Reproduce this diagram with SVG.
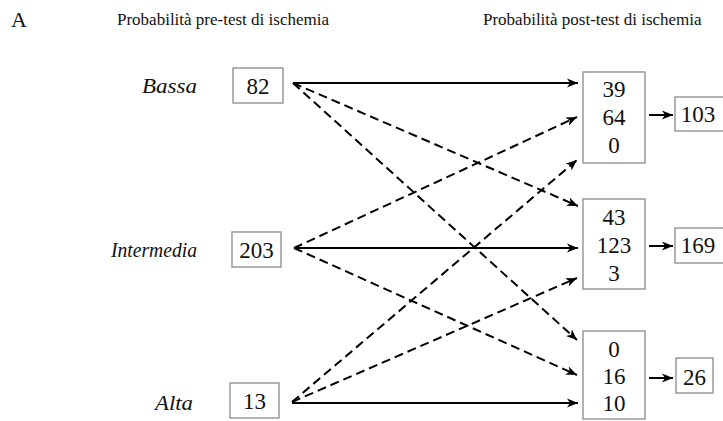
<svg xmlns="http://www.w3.org/2000/svg" width="723" height="421" viewBox="0 0 723 421">
<defs>
<marker id="ah" markerUnits="userSpaceOnUse" markerWidth="12" markerHeight="10" refX="11" refY="5" orient="auto">
<path d="M0,0.5 L11,5 L0,9.5 L3,5 z" fill="#000"/>
</marker>
<style>
.t{font-family:"Liberation Serif","Times New Roman",serif;fill:#111}
.hd{font-size:17px}
.num{font-size:23px;text-anchor:middle}
.lab{font-size:22px;font-style:italic;text-anchor:end}
.box{fill:#fff;stroke:#8a8a8a;stroke-width:1.3}
.ln{stroke:#000;stroke-width:2;fill:none;marker-end:url(#ah)}
.d{stroke-dasharray:9 5}
</style>
</defs>
<rect width="723" height="421" fill="#fff"/>
<text class="t" x="11" y="27" font-size="22">A</text>
<text class="t hd" x="117" y="25">Probabilità pre-test di ischemia</text>
<text class="t hd" x="483" y="25">Probabilità post-test di ischemia</text>

<g id="connectors">
<line class="ln" x1="293" y1="83" x2="578" y2="83"/>
<line class="ln d" x1="293" y1="83" x2="578" y2="206"/>
<line class="ln d" x1="293" y1="83" x2="577" y2="340"/>
<line class="ln d" x1="294" y1="248" x2="577" y2="117"/>
<line class="ln" x1="294" y1="248" x2="578" y2="248"/>
<line class="ln d" x1="294" y1="248" x2="577" y2="375"/>
<line class="ln d" x1="292" y1="402" x2="577" y2="160"/>
<line class="ln d" x1="292" y1="402" x2="577" y2="278"/>
<line class="ln" x1="292" y1="403" x2="578" y2="403"/>
<line class="ln" x1="649" y1="115" x2="673" y2="115"/>
<line class="ln" x1="649" y1="246" x2="673" y2="246"/>
<line class="ln" x1="649" y1="378" x2="673" y2="378"/>
</g>

<g id="bassa">
<text class="t lab" x="197" y="93" textLength="55" lengthAdjust="spacingAndGlyphs">Bassa</text>
<rect class="box" x="233" y="68" width="50" height="35"/>
<text class="t num" x="258" y="94">82</text>
</g>
<g id="intermedia">
<text class="t lab" x="197" y="257" font-size="20.5" textLength="86" lengthAdjust="spacingAndGlyphs">Intermedia</text>
<rect class="box" x="232" y="232" width="49" height="35"/>
<text class="t num" x="256.5" y="258">203</text>
</g>
<g id="alta">
<text class="t lab" x="193" y="410" textLength="38" lengthAdjust="spacingAndGlyphs">Alta</text>
<rect class="box" x="230" y="383" width="49" height="35"/>
<text class="t num" x="254.5" y="409">13</text>
</g>

<g id="post1">
<rect class="box" x="583" y="72" width="62" height="91"/>
<text class="t num" x="614" y="97">39</text>
<text class="t num" x="614" y="125">64</text>
<text class="t num" x="614" y="153">0</text>
</g>
<g id="post2">
<rect class="box" x="583" y="199" width="62" height="90"/>
<text class="t num" x="614" y="225">43</text>
<text class="t num" x="614" y="253">123</text>
<text class="t num" x="614" y="281">3</text>
</g>
<g id="post3">
<rect class="box" x="583" y="331" width="62" height="88"/>
<text class="t num" x="614" y="357">0</text>
<text class="t num" x="614" y="384">16</text>
<text class="t num" x="614" y="411">10</text>
</g>

<g id="tot1">
<rect class="box" x="675" y="97" width="50" height="34"/>
<text class="t num" x="698" y="122">103</text>
</g>
<g id="tot2">
<rect class="box" x="675" y="228" width="50" height="35"/>
<text class="t num" x="698" y="253">169</text>
</g>
<g id="tot3">
<rect class="box" x="676" y="358" width="37" height="35"/>
<text class="t num" x="694.5" y="385">26</text>
</g>
</svg>
